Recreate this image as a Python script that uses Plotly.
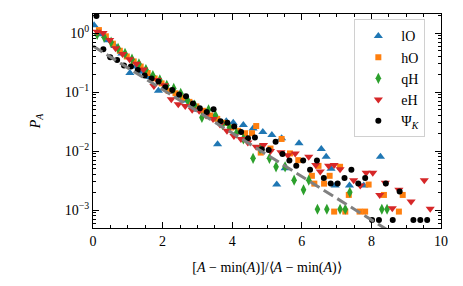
import plotly.graph_objects as go

# ---------------- data ----------------
lO_x = [0.03, 0.23, 0.43, 0.63, 0.83, 1.06, 1.23, 1.43, 1.63, 1.88, 2.03, 2.23, 2.43, 2.63, 2.83,
        3.03, 3.23, 3.43, 3.58, 3.83, 4.03, 4.32, 4.6, 4.88, 5.14, 5.28, 5.42, 5.52, 5.92, 6.56,
        6.7, 6.84, 6.96, 7.37, 7.78, 8.26]
lO_y = [1.35, 0.95, 0.75, 0.6, 0.45, 0.21, 0.27, 0.22, 0.18, 0.105, 0.115, 0.1, 0.085, 0.072, 0.06,
        0.05, 0.045, 0.039, 0.013, 0.032, 0.03, 0.0275, 0.024, 0.021, 0.0187, 0.0027, 0.0165, 0.0051, 0.0135, 0.0108,
        0.008, 0.005, 0.0026, 0.0026, 0.0026, 0.008]

hO_x = [0.17, 0.37, 0.57, 0.77, 0.97, 1.17, 1.37, 1.57, 1.77, 1.97, 2.17, 2.37, 2.57, 2.77, 2.97,
        3.17, 3.37, 3.57, 3.77, 3.97, 4.17, 4.37, 4.57, 4.69, 4.82, 5.1, 5.42, 5.66, 5.9, 6.29,
        6.36, 6.48, 6.64, 6.8, 6.93, 7.1, 7.25, 7.35, 7.66, 7.82, 7.92, 8.36, 8.79, 8.9]
hO_y = [1.12, 0.88, 0.66, 0.5, 0.4, 0.33, 0.27, 0.21, 0.17, 0.14, 0.105, 0.095, 0.08, 0.068, 0.057,
        0.048, 0.04, 0.035, 0.03, 0.025, 0.022, 0.02, 0.02, 0.0265, 0.0094, 0.011, 0.016, 0.0091, 0.007, 0.0038,
        0.0028, 0.0056, 0.0028, 0.0038, 0.00094, 0.0054, 0.00094, 0.0018, 0.00094, 0.00094, 0.0027, 0.0018, 0.00094, 0.0018]

qH_x = [0.12, 0.32, 0.52, 0.72, 0.92, 1.12, 1.32, 1.52, 1.72, 1.92, 2.12, 2.32, 2.52, 2.72, 2.92,
        3.13, 3.32, 3.52, 3.72, 3.92, 4.12, 4.32, 4.6, 4.8, 5.07, 5.26, 5.52, 5.78, 6.05, 6.2,
        6.45, 6.72, 7.1, 7.25, 7.38, 8.3, 8.45]
qH_y = [0.95, 0.85, 0.7, 0.55, 0.45, 0.36, 0.3, 0.24, 0.19, 0.16, 0.13, 0.115, 0.095, 0.072, 0.06,
        0.037, 0.05, 0.04, 0.028, 0.025, 0.02, 0.016, 0.0075, 0.011, 0.0075, 0.0054, 0.0054, 0.0032, 0.0022, 0.0032,
        0.00103, 0.00103, 0.00103, 0.00103, 0.002, 0.00103, 0.00103]

eH_x = [0.12, 0.29, 0.48, 0.65, 0.85, 1.05, 1.25, 1.45, 1.75, 1.85, 2.05, 2.25, 2.45, 2.65, 2.85,
        3.05, 3.25, 3.45, 3.65, 3.85, 4.05, 4.25, 4.45, 4.69, 4.9, 5.1, 5.4, 5.6, 5.81, 6.2,
        6.4, 6.53, 6.77, 6.93, 7.1, 7.49, 7.68, 7.85, 8.04, 8.24, 8.4, 8.6, 8.79, 9.14, 9.52, 9.69]
eH_y = [1.05, 1.0, 0.76, 0.55, 0.44, 0.36, 0.3, 0.24, 0.126, 0.16, 0.13, 0.075, 0.062, 0.058, 0.05,
        0.048, 0.04, 0.035, 0.028, 0.022, 0.018, 0.016, 0.014, 0.0118, 0.0126, 0.01, 0.0095, 0.0085, 0.0091, 0.008,
        0.0058, 0.0045, 0.0056, 0.0058, 0.0049, 0.0032, 0.0026, 0.0043, 0.0043, 0.0018, 0.0029, 0.00107, 0.0022, 0.0014, 0.0032, 0.00105]

psi_x = [0.099, 0.297, 0.495, 0.693, 0.891, 1.089, 1.287, 1.485, 1.683, 1.881, 2.079, 2.277, 2.475, 2.673, 2.871,
         3.069, 3.267, 3.465, 3.663, 3.861, 4.059, 4.257, 4.455, 4.653, 4.851, 5.049, 5.247, 5.445, 5.643, 5.841,
         6.039, 6.237, 6.435, 6.633, 6.831, 7.029, 7.227, 7.425, 7.623, 7.821, 8.019, 8.217, 8.415, 8.613, 8.811,
         9.207, 9.405, 9.603]
psi_y = [1.94, 0.53, 0.39, 0.35, 0.28, 0.27, 0.235, 0.19, 0.17, 0.15, 0.12, 0.108, 0.091, 0.085, 0.064,
         0.053, 0.046, 0.051, 0.032, 0.03, 0.026, 0.021, 0.0164, 0.017, 0.0107, 0.0104, 0.0144, 0.0089, 0.0069, 0.0056,
         0.0069, 0.0048, 0.0069, 0.0035, 0.0028, 0.0028, 0.0035, 0.0048, 0.0028, 0.0035, 0.00068, 0.00068, 0.0028, 0.00068, 0.00205,
         0.00068, 0.00068, 0.00068]

# exponential guide line P = amp * exp(-rate * x)
fit_amp = 0.6
fit_rate = 0.848
fit_x = [0.0, 8.7]
fit_y = [fit_amp * 2.718281828 ** (-fit_rate * v) for v in fit_x]

y_tickvals = [1e-3, 1e-2, 1e-1, 1e0]
y_ticktext = ["10<sup>−3</sup>", "10<sup>−2</sup>", "10<sup>−1</sup>", "10<sup>0</sup>"]
x_tickvals = [0, 2, 4, 6, 8, 10]

# ---------------- figure ----------------
FONT = "Liberation Serif"
fig = go.Figure()

series = [
    ("lO", lO_x, lO_y, "#1f77b4", "triangle-up", 8),
    ("hO", hO_x, hO_y, "#ff7f0e", "square", 6),
    ("qH", qH_x, qH_y, "#2ca02c", "diamond-tall", 8),
    ("eH", eH_x, eH_y, "#d62728", "triangle-down", 8),
    ("Ψ<sub><i>K</i></sub>", psi_x, psi_y, "black", "circle", 6),
]
for name, xs, ys, col, sym, sz in series:
    fig.add_trace(go.Scatter(x=xs, y=ys, mode="markers", name=name,
                             marker=dict(color=col, symbol=sym, size=sz, line=dict(width=0))))

fig.add_trace(go.Scatter(x=fit_x, y=fit_y, mode="lines", showlegend=False,
                         line=dict(color="#808080", width=3, dash="11px,5px")))

minor_y = []
for e in [-4, -3, -2, -1, 0]:
    for m in range(2, 10):
        minor_y.append(m * 10.0 ** e)

fig.update_layout(
    template="none",
    width=463, height=286,
    margin=dict(l=85, r=30, t=6, b=66, autoexpand=False),
    paper_bgcolor="white", plot_bgcolor="white",
    font=dict(family=FONT, size=14, color="black"),
    showlegend=True,
    legend=dict(x=0.955, y=0.975, xanchor="right", yanchor="top",
                bgcolor="rgba(255,255,255,0.85)", bordercolor="#d0d0d0", borderwidth=1,
                font=dict(family=FONT, size=14), itemwidth=36, tracegroupgap=0),
)
fig.update_xaxes(
    range=[0, 10], tickvals=x_tickvals, ticks="inside", ticklen=6, tickwidth=1, tickcolor="black",
    showline=True, linecolor="black", linewidth=1.2, mirror="ticks", automargin=False,
    showgrid=False, zeroline=False, tickfont=dict(size=14),
    minor=dict(dtick=0.5, ticks="inside", ticklen=3, tickcolor="black", showgrid=False),
    title=dict(text="[<i>A</i> − min(<i>A</i>)]/⟨<i>A</i> − min(<i>A</i>)⟩", font=dict(size=14), standoff=14),
)
fig.update_yaxes(
    type="log", range=[-3.305, 0.322], tickvals=y_tickvals, ticktext=y_ticktext,
    ticks="inside", ticklen=6, tickwidth=1, tickcolor="black",
    showline=True, linecolor="black", linewidth=1.2, mirror="ticks", automargin=False,
    showgrid=False, zeroline=False, tickfont=dict(size=14),
    minor=dict(tickvals=minor_y, ticks="inside", ticklen=3, tickcolor="black", showgrid=False),
    title=dict(text="<i>P<sub>A</sub></i>", font=dict(size=14), standoff=20),
)

fig.write_html("out.html")
